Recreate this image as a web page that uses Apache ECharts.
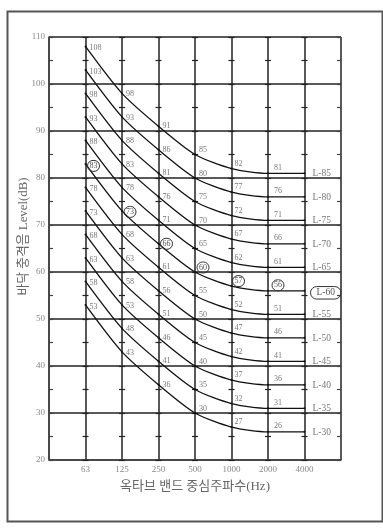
<!DOCTYPE html>
<html><head><meta charset="utf-8">
<script src="https://cdn.jsdelivr.net/npm/echarts@6/dist/echarts.min.js"></script>
<style>html,body{margin:0;padding:0;background:#fff}#c{width:383px;height:528px}</style>
</head><body><div id="c"></div>
<script>
// Octave band centre frequencies (x tick labels)
const xTickLabels = ['63','125','250','500','1000','2000','4000'];
// Floor impact sound level curves (dB) at each band
const curveNames = ['L-30','L-35','L-40','L-45','L-50','L-55','L-60','L-65','L-70','L-75','L-80','L-85'];
const L30 = [53,43,36,30,27,26,26];
const L35 = [58,48,41,35,32,31,31];
const L40 = [63,53,46,40,37,36,36];
const L45 = [68,58,51,45,42,41,41];
const L50 = [73,63,56,50,47,46,46];
const L55 = [78,68,61,55,52,51,51];
const L60 = [83,73,66,60,57,56,56];
const L65 = [88,78,71,65,62,61,61];
const L70 = [93,83,76,70,67,66,66];
const L75 = [98,88,81,75,72,71,71];
const L80 = [103,93,86,80,77,76,76];
const L85 = [108,98,91,85,82,81,81];
const curveValues = [L30,L35,L40,L45,L50,L55,L60,L65,L70,L75,L80,L85];
const highlightCurve = 'L-60';

const SERIF = "'Liberation Serif','DejaVu Serif','Noto Sans CJK KR',serif";
const gridLeft = 49, gridRight = 42, gridTop = 37, gridBottom = 68;
const slot = (383 - gridLeft - gridRight) / 8;
const colDy = [2, 1, 0, -4.5, -5, -5.5];
const colDist = [3, 3, 3, 3, 2, 5];

function buildSeries(name, values) {
  const circled = name === highlightCurve;
  return {
    type: 'line', name: name, smooth: 0.25,
    symbol: 'circle', symbolSize: 2,
    itemStyle: { color: '#111' },
    lineStyle: { color: '#111', width: 1.3 },
    emphasis: { disabled: true },
    data: values.map(function (v, i) {
      const last = i === values.length - 1;
      const label = { show: true, position: 'right', fontFamily: SERIF, color: '#777', fontSize: 8 };
      if (last) {
        label.formatter = name; label.fontSize = 9.5; label.distance = 7; label.offset = [0, 0.5];
      } else {
        label.formatter = String(v); label.distance = colDist[i]; label.offset = [0, colDy[i]];
      }
      if (circled) {
        label.borderColor = '#333'; label.borderWidth = 1; label.borderRadius = 8;
        label.padding = last ? [2, 6, 1, 6] : [2, 2, 1, 2];
        label.distance -= 2; label.color = '#555';
        if (last) { label.offset = [0, 2]; }
      }
      return { value: [i + 1, v], label: label };
    })
  };
}

const tickAxes = [];
for (let k = 1; k <= 7; k++) {
  tickAxes.push({
    type: 'value', min: 20, max: 110, interval: 5, position: 'left', offset: -(k * slot + 3),
    axisLine: { show: false }, axisLabel: { show: false }, splitLine: { show: false },
    axisTick: { show: true, length: 6, lineStyle: { color: '#222', width: 1.2 } }
  });
}
tickAxes.push({
  type: 'value', min: 20, max: 110, interval: 5, position: 'left', offset: 0,
  axisLine: { show: false }, axisLabel: { show: false }, splitLine: { show: false },
  axisTick: { show: true, inside: true, length: 4, lineStyle: { color: '#444', width: 1.2 } }
});
tickAxes.push({
  type: 'value', min: 20, max: 110, interval: 5, position: 'right', offset: 0,
  axisLine: { show: false }, axisLabel: { show: false }, splitLine: { show: false },
  axisTick: { show: true, inside: true, length: 4, lineStyle: { color: '#444', width: 1.2 } }
});

const chart = echarts.init(document.getElementById('c'), null, { renderer: 'canvas' });
chart.setOption({
  animation: false,
  backgroundColor: '#fff',
  graphic: [{
    type: 'rect', left: 5, top: 9, shape: { width: 375, height: 510 },
    style: { fill: 'none', stroke: '#555', lineWidth: 2 }, silent: true
  }],
  grid: { left: gridLeft, right: gridRight, top: gridTop, bottom: gridBottom },
  xAxis: {
    type: 'value', min: 0, max: 8, interval: 1,
    name: '옥타브 밴드 중심주파수(Hz)', nameLocation: 'middle', nameGap: 20, nameMoveOverlap: false,
    nameTextStyle: { fontFamily: SERIF, fontSize: 13, color: '#666' },
    axisLine: { show: true, lineStyle: { color: '#444', width: 1.5 } },
    axisTick: { show: false },
    axisLabel: {
      fontFamily: SERIF, fontSize: 9, color: '#888', margin: 5,
      formatter: function (v) { return (v >= 1 && v <= 7) ? xTickLabels[v - 1] : ''; }
    },
    splitLine: { show: true, lineStyle: { color: '#222', width: 1.5 } }
  },
  yAxis: [{
    type: 'value', min: 20, max: 110, interval: 10,
    name: '바닥 충격음 Level(dB)', nameLocation: 'middle', nameGap: 19, nameRotate: 90, nameMoveOverlap: false,
    nameTextStyle: { fontFamily: SERIF, fontSize: 12.8, color: '#666', padding: [0, 0, 0, 24] },
    axisLine: { show: true, lineStyle: { color: '#444', width: 1.5 } },
    axisTick: { show: false },
    axisLabel: { fontFamily: SERIF, fontSize: 9, color: '#888', margin: 4 },
    splitLine: { show: true, lineStyle: { color: '#222', width: 1.5 } }
  }].concat(tickAxes),
  series: curveNames.map(function (n, i) { return buildSeries(n, curveValues[i]); })
});
</script>
</body></html>
